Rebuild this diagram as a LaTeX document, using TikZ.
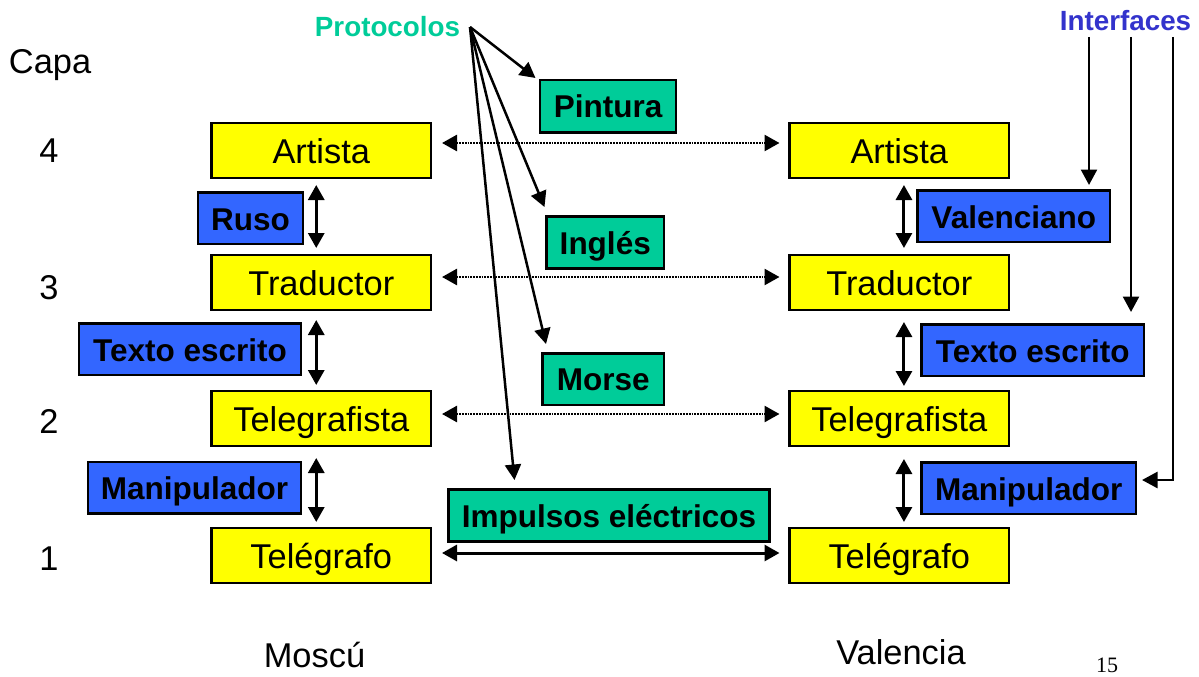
\documentclass[tikz,border=0pt]{standalone}
\usepackage{fontspec}
\setmainfont{Liberation Sans}
\newfontfamily\pagefont{Liberation Serif}
\usetikzlibrary{arrows.meta}
\definecolor{capyellow}{RGB}{255,255,0}
\definecolor{protogreen}{RGB}{0,204,153}
\definecolor{ifaceblue}{RGB}{51,102,255}
\definecolor{protolabel}{RGB}{0,204,153}
\definecolor{ifacelabel}{RGB}{51,51,204}
\tikzset{
  boxbase/.style={draw=black,line width=2.6pt,inner sep=0pt,outer sep=0pt,align=center},
  layerbox/.style={boxbase,fill=capyellow,font=\fontsize{34.4}{40}\selectfont,text height=30pt,text depth=4pt},
  ifacebox/.style={boxbase,fill=ifaceblue,font=\fontsize{31.5}{36}\selectfont\bfseries,text height=26pt,text depth=2pt},
  protobox/.style={boxbase,fill=protogreen,font=\fontsize{31.5}{36}\selectfont\bfseries,text height=26pt,text depth=3pt},
  plain/.style={inner sep=0pt,outer sep=0pt,font=\fontsize{34.4}{40}\selectfont,text height=28pt,text depth=4pt},
  link/.style={line width=2.5pt,-{Triangle[width=16pt,length=15.5pt]}},
  duplex/.style={line width=3pt,{Triangle[width=16pt,length=15pt]}-{Triangle[width=16pt,length=15pt]}},
  dotlink/.style={line width=2.6pt,dash pattern=on 1.8pt off 1pt,{Triangle[width=16pt,length=15pt,sep=0pt]}-{Triangle[width=16pt,length=15pt]}}
}
% \pbox{name}{style}{x0}{y0}{x1}{y1}{text}
\newcommand{\pbox}[7]{%
  \pgfmathsetmacro{\pcx}{(#3+#5)/2}\pgfmathsetmacro{\pcy}{(#4+#6)/2}%
  \pgfmathsetmacro{\pw}{#5-#3}\pgfmathsetmacro{\ph}{#6-#4}%
  \node[#2,minimum width=\pw pt,minimum height=\ph pt] (#1) at (\pcx,\pcy) {#7};}
\begin{document}
\begin{tikzpicture}[x=1pt,y=-1pt]
\useasboundingbox (0,0) rectangle (1199,677);
% layer boxes
\pbox{artL}{layerbox}{211.5}{123}{431}{178}{Artista}
\pbox{traL}{layerbox}{211.5}{255}{431}{310}{Traductor}
\pbox{telL}{layerbox}{211.5}{391}{431}{446}{Telegrafista}
\pbox{grafL}{layerbox}{211.5}{528}{431}{583}{Telégrafo}
\pbox{artR}{layerbox}{789.5}{123}{1009}{178}{Artista}
\pbox{traR}{layerbox}{789.5}{255}{1009}{310}{Traductor}
\pbox{telR}{layerbox}{789.5}{391}{1009}{446}{Telegrafista}
\pbox{grafR}{layerbox}{789.5}{528}{1009}{583}{Telégrafo}
% interface boxes
\pbox{rusoL}{ifacebox}{198}{192.5}{303}{244}{Ruso}
\pbox{textoL}{ifacebox}{79}{323.5}{301}{375}{Texto escrito}
\pbox{maniL}{ifacebox}{88}{462}{301}{513.5}{Manipulador}
\pbox{valR}{ifacebox}{917.5}{190.5}{1110}{242}{Valenciano}
\pbox{textoR}{ifacebox}{921.5}{324.5}{1144}{376}{Texto escrito}
\pbox{maniR}{ifacebox}{921.5}{462.5}{1136}{514}{Manipulador}
% protocol boxes
\pbox{pint}{protobox}{540}{80}{676}{132.5}{Pintura}
\pbox{ingl}{protobox}{546.5}{216.5}{664}{268.5}{Inglés}
\pbox{mors}{protobox}{542.5}{353.5}{664}{405}{Morse}
\pbox{impu}{protobox}{448.5}{489.5}{769.5}{541.5}{Impulsos eléctricos}
% labels
\node[plain,anchor=west] (capa) at (9,62) {Capa};
\node[plain] (n4) at (49,150) {4};
\node[plain] (n3) at (49,287) {3};
\node[plain] (n2) at (49,421) {2};
\node[plain] (n1) at (49,558) {1};
\node[plain] (mos) at (314.5,655) {Moscú};
\node[plain] (val) at (901,652) {Valencia};
\node[inner sep=0pt,font=\fontsize{22}{26}\selectfont\pagefont] (pg) at (1107,665) {15};
\node[inner sep=0pt,outer sep=0pt,text=protolabel,font=\fontsize{27.8}{32}\selectfont\bfseries] (prot) at (387.5,27) {Protocolos};
\node[inner sep=0pt,outer sep=0pt,text=ifacelabel,font=\fontsize{27.8}{32}\selectfont\bfseries] (ifac) at (1125.5,20.5) {Interfaces};
% free ends
\coordinate (po) at (470,27);
\coordinate (tp) at (535.5,78);
\coordinate (ti) at (544.5,207);
\coordinate (tm) at (546,344);
\coordinate (te) at (514.5,480);
\coordinate (ia) at (1089,37);
\coordinate (ib) at (1131,37);
\coordinate (ic) at (1173,37);
\coordinate (iat) at (1089,185);
\coordinate (ibt) at (1131,312);
\coordinate (icb) at (1173,480);
% protocol pointers
\draw[link] (po) -- (tp);
\draw[link] (po) -- (ti);
\draw[link] (po) -- (tm);
\draw[link] (po) -- (te);
% interface pointers
\draw[link] (ia) -- (iat);
\draw[link] (ib) -- (ibt);
\draw[link] (ic) -- (icb) -- ([xshift=6pt]maniR.east |- icb);
% peer links
\draw[dotlink] ([xshift=11pt,yshift=7.5pt]artL.east) -- ([xshift=-10pt,yshift=7.5pt]artR.west);
\draw[dotlink] ([xshift=11pt,yshift=5.5pt]traL.east) -- ([xshift=-10pt,yshift=5.5pt]traR.west);
\draw[dotlink] ([xshift=11pt,yshift=4.5pt]telL.east) -- ([xshift=-10pt,yshift=4.5pt]telR.west);
\draw[duplex] ([xshift=11pt,yshift=2.5pt]grafL.east) -- ([xshift=-10pt,yshift=2.5pt]grafR.west);
% layer links
\draw[duplex] ([xshift=-5pt,yshift=-7pt]artL.south) -- ([xshift=-5pt,yshift=7pt]traL.north);
\draw[duplex] ([xshift=-5pt,yshift=-10pt]traL.south) -- ([xshift=-5pt,yshift=6pt]telL.north);
\draw[duplex] ([xshift=-5pt,yshift=-12pt]telL.south) -- ([xshift=-5pt,yshift=6pt]grafL.north);
\draw[duplex] ([xshift=4.7pt,yshift=-7pt]artR.south) -- ([xshift=4.7pt,yshift=7pt]traR.north);
\draw[duplex] ([xshift=4.7pt,yshift=-12pt]traR.south) -- ([xshift=4.7pt,yshift=5pt]telR.north);
\draw[duplex] ([xshift=4.7pt,yshift=-13pt]telR.south) -- ([xshift=4.7pt,yshift=6pt]grafR.north);
\end{tikzpicture}
\end{document}
